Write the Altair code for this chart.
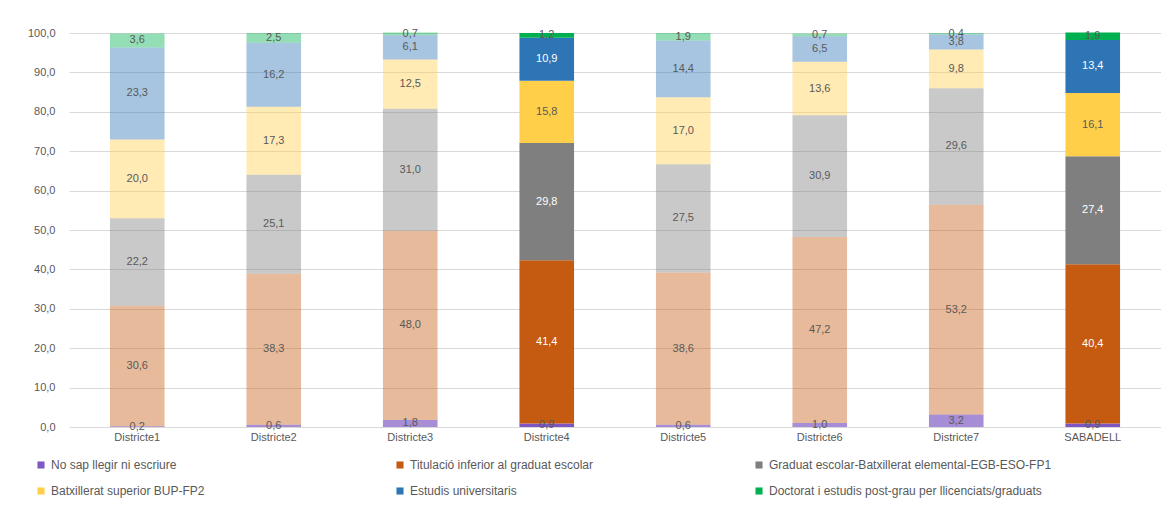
import altair as alt
import pandas as pd

districts = ["Districte1", "Districte2", "Districte3", "Districte4",
             "Districte5", "Districte6", "Districte7", "SABADELL"]
series = [
    "No sap llegir ni escriure",
    "Titulació inferior al graduat escolar",
    "Graduat escolar-Batxillerat elemental-EGB-ESO-FP1",
    "Batxillerat superior BUP-FP2",
    "Estudis universitaris",
    "Doctorat i estudis post-grau per llicenciats/graduats",
]
no_sap      = [0.2, 0.6, 1.8, 0.9, 0.6, 1.0, 3.2, 0.9]
titulacio   = [30.6, 38.3, 48.0, 41.4, 38.6, 47.2, 53.2, 40.4]
graduat     = [22.2, 25.1, 31.0, 29.8, 27.5, 30.9, 29.6, 27.4]
batxillerat = [20.0, 17.3, 12.5, 15.8, 17.0, 13.6, 9.8, 16.1]
estudis     = [23.3, 16.2, 6.1, 10.9, 14.4, 6.5, 3.8, 13.4]
doctorat    = [3.6, 2.5, 0.7, 1.2, 1.9, 0.7, 0.4, 1.9]
highlighted = ["Districte4", "SABADELL"]

colors = ["#7E57C2", "#C55A11", "#7F7F7F", "#FFCF4A", "#2E75B6", "#00B050"]

rows = []
for s_i, (s, vals) in enumerate(zip(series, [no_sap, titulacio, graduat, batxillerat, estudis, doctorat])):
    for d, v in zip(districts, vals):
        rows.append({"district": d, "series": s, "order": s_i, "value": v,
                     "label": f"{v:.1f}".replace(".", ",")})
df = pd.DataFrame(rows)

FONT = "Liberation Sans"
hl_test = "indexof(['Districte4','SABADELL'], datum.district) >= 0"

x_axis = alt.Axis(labelAngle=0, ticks=False, domain=False,
                  labelFont=FONT, labelFontSize=11, labelColor="#595959",
                  labelPadding=4)
y_axis = alt.Axis(values=list(range(0, 101, 10)), labelOverlap=False,
                  labelExpr="replace(format(datum.value, '.1f'), '.', ',')",
                  ticks=False, domain=False, grid=True, gridColor="#D9D9D9",
                  labelFont=FONT, labelFontSize=11, labelColor="#595959",
                  labelPadding=14)
x_scale = alt.Scale(paddingInner=0.6, paddingOuter=0.3)
y_scale = alt.Scale(domain=[0, 100], nice=False)

base = alt.Chart(df).transform_stack(
    stack="value", groupby=["district"], as_=["v0", "v1"],
    sort=[alt.SortField("order", order="ascending")]
).transform_calculate(
    mid="(datum.v0 + datum.v1) / 2",
    alpha=f"({hl_test}) ? 1 : (datum.order == 0 ? 0.68 : 0.42)",
)

bars = base.mark_bar().encode(
    x=alt.X("district:N", sort=districts, title=None, scale=x_scale, axis=x_axis),
    y=alt.Y("v0:Q", title=None, scale=y_scale, axis=y_axis),
    y2="v1:Q",
    color=alt.Color("series:N", sort=series,
                    scale=alt.Scale(domain=series, range=colors),
                    legend=alt.Legend(title=None, orient="none", legendX=-34, legendY=426,
                                      columns=3, direction="horizontal", gridAlign="all",
                                      columnPadding=60, rowPadding=14,
                                      symbolType="square", symbolSize=50,
                                      symbolStrokeWidth=0, labelFont=FONT,
                                      labelFontSize=12, labelColor="#595959",
                                      labelLimit=400)),
    opacity=alt.Opacity("alpha:Q", scale=None, legend=None),
    order=alt.Order("order:Q"),
)

white_test = hl_test + " && datum.order >= 1 && datum.order != 3 && datum.order != 5"
labels = base.mark_text(font=FONT, fontSize=11).encode(
    x=alt.X("district:N", sort=districts, title=None, scale=x_scale, axis=x_axis),
    y=alt.Y("mid:Q", title=None, scale=y_scale, axis=y_axis),
    text="label:N",
    color=alt.condition(white_test, alt.value("#FFFFFF"), alt.value("#595959")),
)

chart = alt.layer(bars, labels).properties(
    width=1092, height=394,
    autosize=alt.AutoSizeParams(type="none"),
    padding={"left": 61, "top": 25, "right": 0, "bottom": 90},
).configure_view(stroke=None)

chart.save("out.html", embed_options={"renderer": "svg", "actions": False})
